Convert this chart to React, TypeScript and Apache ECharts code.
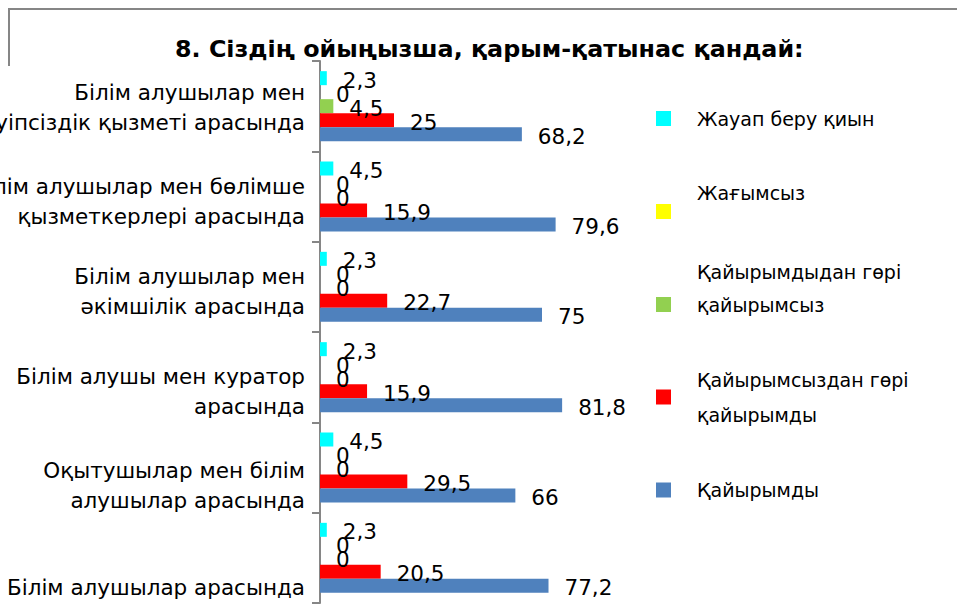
import React, { useEffect, useRef } from "react";
import * as echarts from "echarts";

const categories = [
  "Білім алушылар арасында",
  "Оқытушылар мен білім\nалушылар арасында",
  "Білім алушы мен куратор\nарасында",
  "Білім алушылар мен\nәкімшілік арасында",
  "Білім алушылар мен бөлімше\nқызметкерлері арасында",
  "Білім алушылар мен\nқауіпсіздік қызметі арасында",
];
// vertical shift of each category label (px, downward)
const labelShift = [30, 18, 14.5, 5, 4.5, 1];

const seriesNames = [
  "Жауап беру қиын",
  "Жағымсыз",
  "Қайырымдыдан гөрі қайырымсыз",
  "Қайырымсыздан гөрі қайырымды",
  "Қайырымды",
];
const legendLabels = [
  "Жауап беру қиын",
  "Жағымсыз\n\u00a0",
  "Қайырымдыдан гөрі\nқайырымсыз\n\u00a0",
  "Қайырымсыздан гөрі\nқайырымды",
  "Қайырымды",
];
const colors = ["#00FFFF", "#FFFF00", "#92D050", "#FF0000", "#4F81BD"];

const hardToAnswer = [2.3, 4.5, 2.3, 2.3, 4.5, 2.3];
const negative = [0, 0, 0, 0, 0, 0];
const moreUnkind = [0, 0, 0, 0, 0, 4.5];
const moreKind = [20.5, 29.5, 15.9, 22.7, 15.9, 25];
const kind = [77.2, 66, 81.8, 75, 79.6, 68.2];
const seriesValues = [hardToAnswer, negative, moreUnkind, moreKind, kind];

// legend text layout: [padding (top & bottom), lineHeight]
const legendPad = [
  [35, 34],
  [4, 37],
  [2.5, 33],
  [5.5, 35],
  [35.5, 34],
];

const FONT = "DejaVu Sans";

export default function App() {
  const ref = useRef<HTMLDivElement>(null);
  useEffect(() => {
    if (!ref.current) return;
    const chart = echarts.init(ref.current, null, { renderer: "svg" });
    const catRich: any = {};
    labelShift.forEach((s, i) => {
      catRich["c" + i] = {
        fontFamily: FONT,
        fontSize: 21.5,
        lineHeight: 30,
        color: "#000",
        align: "right",
        padding: [s * 2, 0, 0, 0],
      };
    });
    chart.setOption({
      animation: false,
      backgroundColor: "#fff",
      title: {
        text: "8. Сіздің ойыңызша, қарым-қатынас қандай:",
        left: 175,
        top: 35,
        padding: 0,
        textStyle: {
          fontFamily: FONT,
          fontWeight: "bold",
          fontSize: 23.8,
          lineHeight: 28,
          color: "#000",
        },
      },
      graphic: [
        {
          type: "polyline",
          shape: { points: [[9, 66], [9, 9], [957, 9]] },
          style: { stroke: "#868686", lineWidth: 2, fill: null },
          silent: true,
        },
      ],
      legend: {
        orient: "vertical",
        left: 656,
        top: 66.5,
        padding: 0,
        itemGap: 0,
        itemWidth: 15,
        itemHeight: 15,
        icon: "rect",
        data: seriesNames.map((name, i) => ({
          name,
          textStyle: {
            fontFamily: FONT,
            fontSize: 19,
            color: "#000",
            lineHeight: legendPad[i][1],
            padding: [legendPad[i][0], 0, legendPad[i][0], 21],
          },
        })),
        formatter: (name: string) => legendLabels[seriesNames.indexOf(name)],
      },
      grid: {
        left: 320,
        top: 61,
        width: 296,
        height: 542,
        containLabel: false,
        outerBoundsMode: "none",
      },
      xAxis: {
        type: "value",
        min: 0,
        max: 100,
        show: false,
        splitLine: { show: false },
      },
      yAxis: {
        type: "category",
        data: categories,
        axisLine: { show: true, lineStyle: { color: "#868686", width: 2 } },
        axisTick: { show: true, length: 8, lineStyle: { color: "#868686", width: 2 } },
        axisLabel: {
          interval: 0,
          margin: 15,
          formatter: (v: string, idx: number) =>
            v
              .split("\n")
              .map((t) => `{c${idx}|${t}}`)
              .join("\n"),
          rich: catRich,
        },
      },
      series: seriesNames.map((name, si) => ({
        name,
        type: "bar",
        data: seriesValues[si],
        barWidth: 14,
        barGap: "0%",
        itemStyle: { color: colors[si] },
        label: {
          show: true,
          position: "right",
          distance: 16,
          offset: [0, 2],
          fontFamily: FONT,
          fontSize: 21.5,
          color: "#000",
          formatter: (p: any) => String(p.value).replace(".", ","),
        },
      })),
    });
    return () => chart.dispose();
  }, []);
  return (
    <div
      ref={ref}
      style={{ position: "fixed", left: 0, top: 0, width: 957, height: 604 }}
    />
  );
}
